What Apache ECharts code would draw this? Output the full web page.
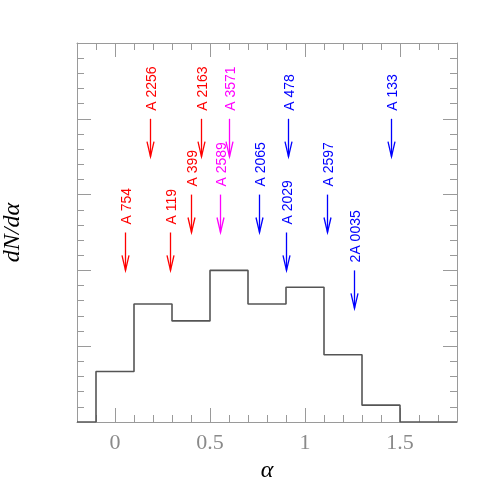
<!DOCTYPE html>
<html>
<head>
<meta charset="utf-8">
<script src="https://cdn.jsdelivr.net/npm/echarts@6/dist/echarts.min.js"></script>
<style>html,body{margin:0;padding:0;background:#fff}#c{width:498px;height:498px}</style>
</head>
<body>
<div id="c"></div>
<script>
// Histogram: bin left edges and normalized dN/dalpha heights
var binEdges = [-0.1, 0.1, 0.3, 0.5, 0.7, 0.9, 1.1, 1.3, 1.5];
var binHeights = [0.333, 0.778, 0.667, 1.0, 0.778, 0.889, 0.444, 0.111];
// Cluster arrows
var clusterNames = ['A 754','A 119','A 399','A 2256','A 2163','A 2589','A 3571','A 2065','A 478','A 2029','A 2597','2A 0035','A 133'];
var clusterAlpha = [0.055, 0.29, 0.40, 0.185, 0.45, 0.55, 0.60, 0.76, 0.91, 0.90, 1.115, 1.26, 1.455];
var clusterLevel = [1.25, 1.25, 1.5, 2.0, 2.0, 1.5, 2.0, 1.5, 2.0, 1.25, 1.5, 1.0, 2.0];
var clusterGroup = ['r','r','r','r','r','m','m','b','b','b','b','b','b'];
var xTickLabels = [0, 0.5, 1, 1.5];

var groupColor = {r:'#ff0000', m:'#ff00ff', b:'#0000ff'};
var ARROW_LEN = 0.25;

var histPts = [[-0.2, 0]];
for (var i = 0; i < binHeights.length; i++) histPts.push([binEdges[i], binHeights[i]]);
histPts.push([binEdges[binEdges.length-1], 0]);
histPts.push([1.8, 0]);

var arrowData = clusterAlpha.map(function(a, i){ return [a, clusterLevel[i], i]; });

var FRAME = '#9a9a9a';
var xCommon = {type:'value', min:-0.2, max:1.8, splitLine:{show:false}};
var yCommon = {type:'value', min:0, max:2.5, interval:0.5, splitLine:{show:false}};

var chart = echarts.init(document.getElementById('c'));
chart.setOption({
  animation:false,
  grid:{left:77, top:43, right:41, bottom:76, containLabel:false, outerBoundsMode:'none'},
  xAxis:[
    Object.assign({}, xCommon, {position:'bottom', interval:0.1,
      axisLine:{show:true, onZero:false, lineStyle:{color:FRAME, width:1}},
      axisTick:{show:true, inside:true, length:14, lineStyle:{color:FRAME}, customValues:xTickLabels},
      axisLabel:{show:true, customValues:xTickLabels, color:'#8a8a8a', fontFamily:'Liberation Serif', fontSize:22, margin:10,
        formatter:function(v){return String(Math.round(v*10)/10);}},
      name:'\u03b1', nameLocation:'middle', nameGap:27,
      nameTextStyle:{fontFamily:'Liberation Serif', fontStyle:'italic', fontSize:24, color:'#000'}}),
    Object.assign({}, xCommon, {position:'bottom', interval:0.1,
      axisLine:{show:false, onZero:false}, axisLabel:{show:false},
      axisTick:{show:true, inside:true, length:7, lineStyle:{color:FRAME}}}),
    Object.assign({}, xCommon, {position:'top', interval:0.1,
      axisLine:{show:true, onZero:false, lineStyle:{color:FRAME, width:1}}, axisLabel:{show:false},
      axisTick:{show:true, inside:true, length:14, lineStyle:{color:FRAME}, customValues:xTickLabels}}),
    Object.assign({}, xCommon, {position:'top', interval:0.1,
      axisLine:{show:false, onZero:false}, axisLabel:{show:false},
      axisTick:{show:true, inside:true, length:7, lineStyle:{color:FRAME}}})
  ],
  yAxis:[
    Object.assign({}, yCommon, {position:'left',
      axisLine:{show:true, onZero:false, lineStyle:{color:FRAME, width:1}},
      axisTick:{show:true, inside:true, length:14, lineStyle:{color:FRAME}},
      minorTick:{show:true, splitNumber:5, length:7, lineStyle:{color:FRAME}},
      axisLabel:{show:false},
      name:'dN/d\u03b1', nameLocation:'middle', nameGap:52, nameRotate:90,
      nameTextStyle:{fontFamily:'Liberation Serif', fontStyle:'italic', fontSize:24, color:'#000'}}),
    Object.assign({}, yCommon, {position:'right',
      axisLine:{show:true, onZero:false, lineStyle:{color:FRAME, width:1}},
      axisTick:{show:true, inside:true, length:14, lineStyle:{color:FRAME}},
      minorTick:{show:true, splitNumber:5, length:7, lineStyle:{color:FRAME}},
      axisLabel:{show:false}})
  ],
  series:[
    {type:'line', xAxisIndex:0, yAxisIndex:0, data:histPts, step:'end', showSymbol:false, symbol:'none',
     lineStyle:{color:'#555', width:1.6}, z:3},
    {type:'custom', xAxisIndex:0, yAxisIndex:0, data:arrowData, clip:false, z:4,
     renderItem:function(params, api){
       var idx = api.value(2);
       var col = groupColor[clusterGroup[idx]];
       var p0 = api.coord([api.value(0), api.value(1)]);
       var p1 = api.coord([api.value(0), api.value(1) - ARROW_LEN]);
       var x = Math.round(p0[0]) + 0.5;
       return {type:'group', children:[
         {type:'line', shape:{x1:x, y1:p0[1], x2:x, y2:p1[1]}, style:{stroke:col, lineWidth:1.3}},
         {type:'polyline', shape:{points:[[x-3.5, p1[1]-15],[x, p1[1]],[x+3.5, p1[1]-15]]}, style:{stroke:col, lineWidth:1.3, fill:null}},
         {type:'text', x:x+1.5, y:p0[1]-8, rotation:Math.PI/2,
          style:{text:clusterNames[idx], x:0, y:0, align:'left', verticalAlign:'middle', fill:col,
                 font:'14px "Liberation Sans"'}}
       ]};
     }}
  ]
});
</script>
</body>
</html>
